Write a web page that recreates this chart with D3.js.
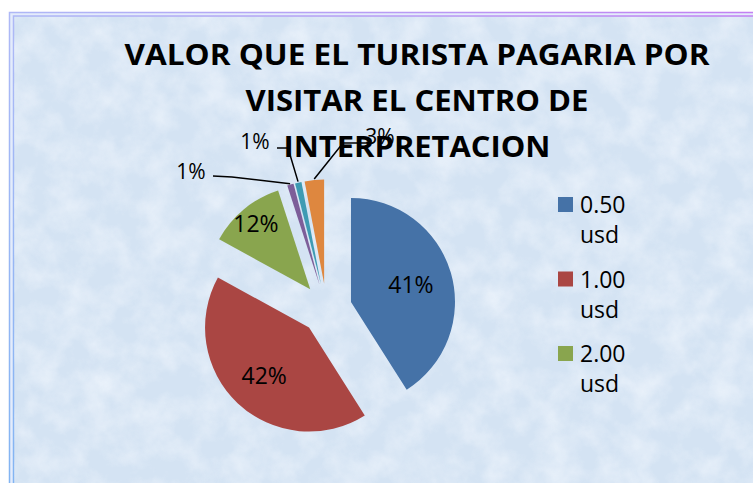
<!DOCTYPE html>
<html>
<head>
<meta charset="utf-8">
<script src="https://cdn.jsdelivr.net/npm/d3@7"></script>
<style>
  html, body { margin: 0; padding: 0; background: #fff; }
  svg { display: block; }
</style>
</head>
<body>
<div id="chart"></div>
<script>
// chart data
var categories = ["0.50 usd", "1.00 usd", "2.00 usd", "3.00 usd", "4.00 usd", "5.00 usd"];
var values = [41, 42, 12, 1, 1, 3];
var colors = ["#4572A7", "#AA4643", "#89A54E", "#7D5E99", "#3E9BB3", "#DE873F"];
var titleLines = ["VALOR QUE EL TURISTA PAGARIA POR", "VISITAR EL CENTRO DE", "INTERPRETACION"];

var width = 753, height = 483;

var svg = d3.select("#chart")
  .append("svg")
    .attr("width", width)
    .attr("height", height);

var defs = svg.append("defs");

// border gradient, blue at bottom left to purple at top right
var grad = defs.append("linearGradient")
    .attr("id", "border")
    .attr("x1", 0).attr("y1", 1).attr("x2", 1).attr("y2", 0);
grad.append("stop").attr("offset", 0).attr("stop-color", "#7db4f2");
grad.append("stop").attr("offset", 0.5).attr("stop-color", "#aeb8f6");
grad.append("stop").attr("offset", 1).attr("stop-color", "#c47cf2");

// mottled paper texture
var tex = defs.append("filter")
    .attr("id", "paper")
    .attr("x", 0).attr("y", 0).attr("width", 1).attr("height", 1);
tex.append("feTurbulence")
    .attr("type", "fractalNoise")
    .attr("baseFrequency", 0.035)
    .attr("numOctaves", 4)
    .attr("seed", 7);
tex.append("feColorMatrix")
    .attr("type", "matrix")
    .attr("values", "0 0 0 0 0.93  0 0 0 0 0.96  0 0 0 0 1  1.3 0 0 0 -0.45");

// frame
svg.append("rect")
    .attr("x", 9.5).attr("y", 12.5)
    .attr("width", 800).attr("height", 520)
    .attr("fill", "#e4ecfb")
    .attr("stroke", "url(#border)")
    .attr("stroke-width", 1.5);
svg.append("rect")
    .attr("x", 13.5).attr("y", 16)
    .attr("width", 800).attr("height", 520)
    .attr("fill", "#d4e3f3")
    .attr("stroke", "url(#border)")
    .attr("stroke-width", 1.5);
svg.append("rect")
    .attr("x", 14.5).attr("y", 17)
    .attr("width", 800).attr("height", 520)
    .attr("opacity", 0.8)
    .attr("filter", "url(#paper)");

// pie
var cx = 326.5, cy = 309, radius = 104, explode = 25.5;

var pie = d3.pie().sort(null).value(function(d) { return d; });
var arc = d3.arc().innerRadius(0).outerRadius(radius);
var arcs = pie(values);

function mid(d) { return (d.startAngle + d.endAngle) / 2; }
function offset(d, dist) {
  var a = mid(d);
  return [Math.sin(a) * dist, -Math.cos(a) * dist];
}

var g = svg.append("g")
    .attr("transform", "translate(" + cx + "," + cy + ")");

g.selectAll("path")
  .data(arcs)
  .enter()
  .append("path")
    .attr("d", arc)
    .attr("fill", function(d, i) { return colors[i]; })
    .attr("transform", function(d) {
      var o = offset(d, explode);
      return "translate(" + o[0] + "," + o[1] + ")";
    });

// labels inside the big slices
var insideFactor = [0.6, 0.63, 0.82];
// labels outside the thin slices: text spot + leader elbow
var outside = {
  3: {text: [191, 171], line: [[213, 176], [232, 177]]},
  4: {text: [255, 141], line: [[277, 148], [288, 148]]},
  5: {text: [380, 136], line: [[368, 143], [343, 143]]}
};

var pct = function(d) { return Math.round(d.value) + "%"; };
var labelFont = "'Open Sans', sans-serif";

arcs.forEach(function(d, i) {
  if (i < insideFactor.length) {
    var o = offset(d, explode + radius * insideFactor[i]);
    g.append("text")
      .attr("x", o[0]).attr("y", o[1])
      .attr("dy", "0.36em")
      .attr("text-anchor", "middle")
      .style("font-family", labelFont)
      .style("font-size", "23px")
      .attr("fill", "#000")
      .text(pct(d));
  } else {
    var L = outside[i];
    var tip = offset(d, explode + radius + 1);
    var pts = L.line.concat([[cx + tip[0], cy + tip[1]]]);
    svg.append("path")
      .attr("d", d3.line()(pts))
      .attr("fill", "none")
      .attr("stroke", "#000")
      .attr("stroke-width", 1.5);
    svg.append("text")
      .attr("x", L.text[0]).attr("y", L.text[1])
      .attr("dy", "0.36em")
      .attr("text-anchor", "middle")
      .style("font-family", labelFont)
      .style("font-size", "21px")
      .attr("fill", "#000")
      .text(pct(d));
  }
});

// legend (only the first entries fit in the box)
var legend = svg.append("g")
    .attr("transform", "translate(558,197)");
var shown = categories.slice(0, 3);
var item = legend.selectAll("g")
  .data(shown)
  .enter()
  .append("g")
    .attr("transform", function(d, i) { return "translate(0," + (i * 74.5) + ")"; });
item.append("rect")
    .attr("width", 15).attr("height", 15)
    .attr("fill", function(d, i) { return colors[i]; });
item.append("text")
    .attr("x", 22)
    .style("font-family", labelFont)
    .style("font-size", "23px")
    .attr("fill", "#000")
  .selectAll("tspan")
  .data(function(d) { return d.split(" "); })
  .enter()
  .append("tspan")
    .attr("x", 22)
    .attr("y", function(d, j) { return 16 + j * 30; })
    .text(function(d) { return d; });

// title, drawn over the leader lines like the original
var titleWidths = [585, 343, 267];
svg.append("g").selectAll("text")
  .data(titleLines)
  .enter()
  .append("text")
    .attr("x", 417)
    .attr("y", function(d, i) { return 65 + i * 46; })
    .attr("text-anchor", "middle")
    .attr("textLength", function(d, i) { return titleWidths[i]; })
    .attr("lengthAdjust", "spacingAndGlyphs")
    .style("font-family", labelFont)
    .style("font-weight", "bold")
    .style("font-size", "29px")
    .attr("fill", "#000")
    .text(function(d) { return d; });
</script>
</body>
</html>
